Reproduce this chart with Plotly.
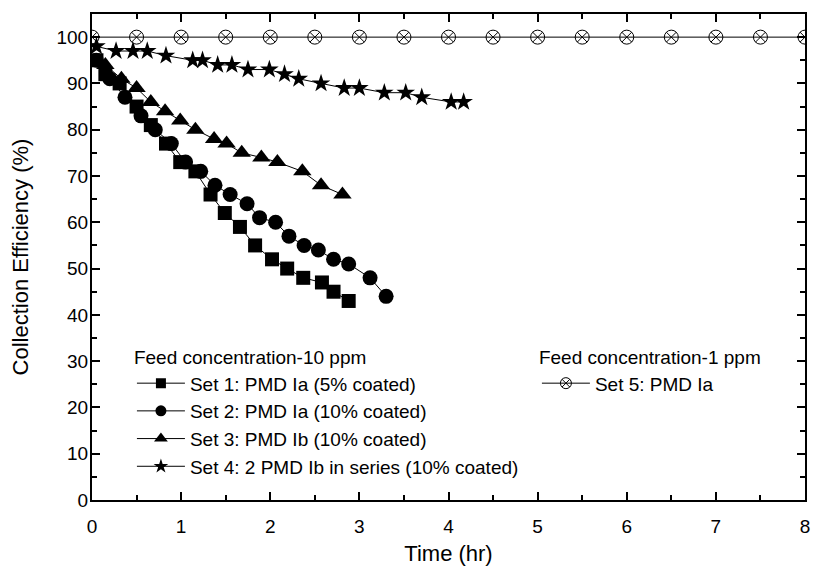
import plotly.graph_objects as go

# Set 1: PMD Ia (5% coated)
set1_t = [0.05, 0.15, 0.31, 0.5, 0.66, 0.83, 0.99, 1.16, 1.33, 1.49, 1.66, 1.83, 2.02, 2.19, 2.37, 2.58, 2.71, 2.88]
set1_e = [95, 92, 90, 85, 81, 77, 73, 71, 66, 62, 59, 55, 52, 50, 48, 47, 45, 43]

# Set 2: PMD Ia (10% coated)
set2_t = [0.05, 0.2, 0.37, 0.55, 0.71, 0.89, 1.05, 1.22, 1.38, 1.55, 1.74, 1.88, 2.06, 2.21, 2.38, 2.54, 2.71, 2.88, 3.12, 3.3]
set2_e = [95, 91, 87, 83, 80, 77, 73, 71, 68, 66, 64, 61, 60, 57, 55, 54, 52, 51, 48, 44]

# Set 3: PMD Ib (10% coated)
set3_t = [0.15, 0.33, 0.5, 0.66, 0.82, 0.99, 1.16, 1.37, 1.51, 1.68, 1.9, 2.08, 2.36, 2.57, 2.81]
set3_e = [94, 91, 89, 86, 84, 82, 80, 78, 77, 75, 74, 73, 71, 68, 66]

# Set 4: 2 PMD Ib in series (10% coated)
set4_t = [0.05, 0.27, 0.46, 0.62, 0.83, 1.13, 1.24, 1.41, 1.57, 1.75, 1.99, 2.16, 2.32, 2.57, 2.83, 3.0, 3.28, 3.52, 3.7, 4.03, 4.17]
set4_e = [98, 97, 97, 97, 96, 95, 95, 94, 94, 93, 93, 92, 91, 90, 89, 89, 88, 88, 87, 86, 86]

# Set 5: PMD Ia (1 ppm)
set5_t = [0, 0.5, 1, 1.5, 2, 2.5, 3, 3.5, 4, 4.5, 5, 5.5, 6, 6.5, 7, 7.5, 8]
set5_e = [100] * 17

names = [
    "Set 1: PMD Ia (5% coated)",
    "Set 2: PMD Ia (10% coated)",
    "Set 3: PMD Ib (10% coated)",
    "Set 4: 2 PMD Ib in series (10% coated)",
    "Set 5: PMD Ia",
]
legend_titles = ["Feed concentration-10 ppm", "Feed concentration-1 ppm"]

FONT = "Liberation Sans, Arial, sans-serif"

fig = go.Figure()
series = [
    (set1_t, set1_e, "square", 14, 10, "legend"),
    (set2_t, set2_e, "circle", 15, 11, "legend"),
    (set3_t, set3_e, "triangle-up", 16, 12, "legend"),
    (set4_t, set4_e, "star", 14, 11, "legend"),
    (set5_t, set5_e, "circle-x-open", 14, 11, "legend2"),
]
for (t, e, sym, sz, lsz, lg), nm in zip(series, names):
    mk_line = dict(width=1, color="black") if sym.endswith("open") else dict(width=0)
    fig.add_trace(go.Scatter(
        x=t, y=e, mode="lines+markers", name=nm, showlegend=False,
        line=dict(color="black", width=1),
        marker=dict(symbol=sym, size=sz, color="black", line=mk_line),
    ))
    # legend-only entry with smaller symbol, as in the original legend
    fig.add_trace(go.Scatter(
        x=[None], y=[None], mode="lines+markers", name=nm, legend=lg,
        line=dict(color="black", width=1),
        marker=dict(symbol=sym, size=lsz, color="black", line=mk_line),
    ))

axis_common = dict(
    showline=True, linecolor="black", linewidth=2, mirror="allticks",
    ticks="inside", ticklen=8, tickwidth=1.5, tickcolor="black",
    showgrid=False, zeroline=False,
    tickfont=dict(family=FONT, size=19, color="black"),
    ticklabeloverflow="allow",
)

fig.update_xaxes(
    range=[0, 8], dtick=1, tick0=0,
    minor=dict(ticks="inside", ticklen=5, dtick=0.5, tickcolor="black", tickwidth=1.5),
    title=dict(text="Time (hr)", font=dict(family=FONT, size=22, color="black"), standoff=10),
    ticklabelstandoff=8,
    **axis_common,
)
fig.update_yaxes(
    range=[0, 105], dtick=10, tick0=0,
    minor=dict(ticks="inside", ticklen=5, dtick=5, tickcolor="black", tickwidth=1.5),
    title=dict(text="Collection Efficiency (%)", font=dict(family=FONT, size=22, color="black"), standoff=22),
    ticklabelstandoff=-2,
    **axis_common,
)

legend_font = dict(family=FONT, size=19, color="black")
fig.update_layout(
    width=813, height=569,
    margin=dict(l=92, r=3, t=14, b=69),
    paper_bgcolor="white", plot_bgcolor="white",
    font=dict(family=FONT, color="black"),
    legend=dict(
        x=0.056, y=0.33, xanchor="left", yanchor="top",
        bgcolor="rgba(0,0,0,0)", font=legend_font,
        title=dict(text=legend_titles[0], font=legend_font),
        itemwidth=48, tracegroupgap=0,
    ),
    legend2=dict(
        x=0.624, y=0.33, xanchor="left", yanchor="top",
        bgcolor="rgba(0,0,0,0)", font=legend_font,
        title=dict(text=legend_titles[1], font=legend_font),
        itemwidth=48,
    ),
)

fig.write_html("out.html")
